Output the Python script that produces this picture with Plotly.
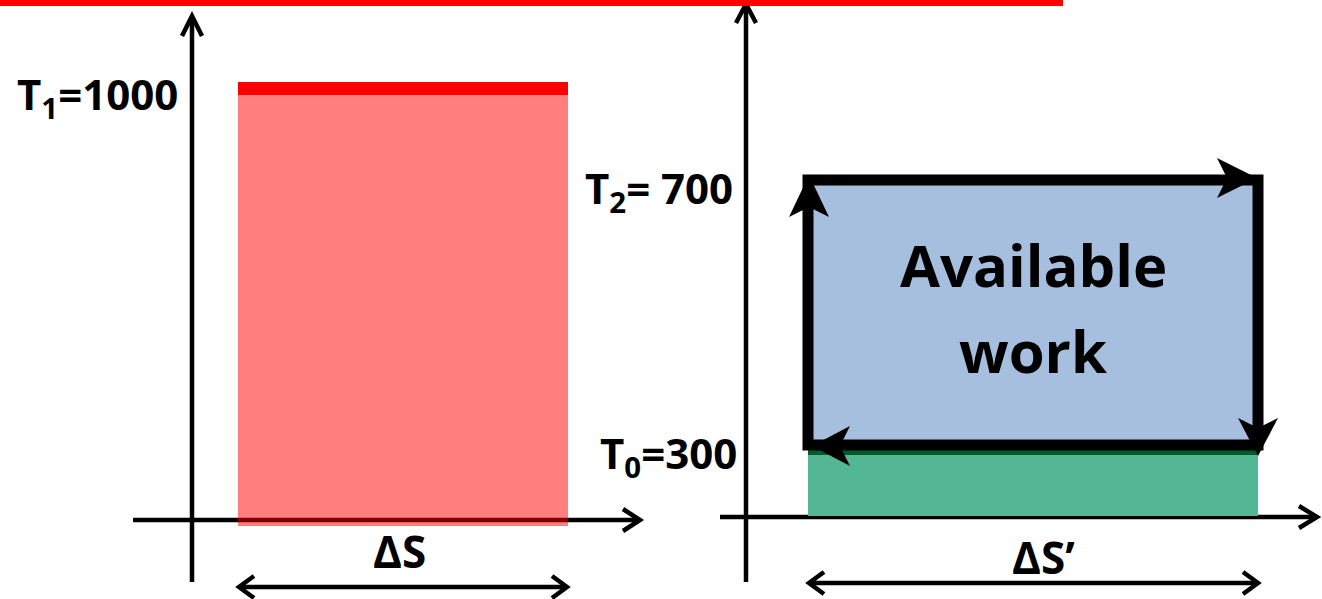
import plotly.graph_objects as go

# ---------------- data ----------------
left_levels = [1000]            # T1
left_level_labels = ["T<sub>1</sub>=1000"]
right_levels = [700, 300]       # T2, T0
right_level_labels = ["T<sub>2</sub>= 700", "T<sub>0</sub>=300"]
left_entropy = [0.0, 1.0]       # ΔS interval
right_entropy = [0.0, 1.0]      # ΔS' interval
width_labels = ["ΔS", "ΔS’"]
area_label = ["Available", "work"]

T1 = left_levels[0]
T2, T0 = right_levels

# ---------------- layout geometry (pixels) ----------------
W, H = 1322, 599
BLACK = "#000000"


def lin_range(va, pa, vb, pb, size):
    k = (pb - pa) / (vb - va)
    v0 = va + (0 - pa) / k
    v1 = va + (size - pa) / k
    return sorted([v0, v1]), (lambda p: va + (p - pa) / k)


# left panel: S=0 -> 238px, S=1 -> 568px ; T=0 -> 520px, T=1000 -> 88.5px
lx_range, lx = lin_range(left_entropy[0], 238, left_entropy[1], 568, W)
ly_range, ly = lin_range(0, 520, T1, 88.5, H)
# right panel: S'=0 -> 808px, S'=1 -> 1258px ; T2 -> 180px, T0 -> 445px
rx_range, rx = lin_range(right_entropy[0], 808, right_entropy[1], 1258, W)
ry_range, ry = lin_range(T2, 180, T0, 445, H)


def px(p):
    return p / W


def py(p):
    return 1 - p / H


fig = go.Figure()
# invisible traces establish the two coordinate systems
fig.add_trace(go.Scatter(x=left_entropy, y=[0, T1], mode="markers", marker=dict(size=0, opacity=0),
                         hoverinfo="skip", showlegend=False, xaxis="x", yaxis="y"))
fig.add_trace(go.Scatter(x=right_entropy, y=[T0, T2], mode="markers", marker=dict(size=0, opacity=0),
                         hoverinfo="skip", showlegend=False, xaxis="x2", yaxis="y2"))

shapes = []


def pline(x0, y0, x1, y1, w=4.5, color=BLACK):
    shapes.append(dict(type="line", xref="paper", yref="paper", x0=px(x0), y0=py(y0), x1=px(x1), y1=py(y1),
                       line=dict(color=color, width=w)))


def ppath(ax, ay, path, fill=None, w=4.5, xref="paper", yref="paper"):
    d = dict(type="path", xref=xref, yref=yref, xsizemode="pixel", ysizemode="pixel",
             xanchor=ax, yanchor=ay, path=path, line=dict(color=BLACK, width=w if fill is None else 0))
    if fill:
        d["fillcolor"] = fill
    shapes.append(d)


def chevron(x, y, direction, L=17, Wd=11, w=4.5):
    # open arrow head, tip at (x,y) in pixels; path coords are pixels with y up
    if direction == "up":
        p = f"M {-Wd},{-L} L 0,0 L {Wd},{-L}"
    elif direction == "right":
        p = f"M {-L},{Wd} L 0,0 L {-L},{-Wd}"
    else:  # left
        p = f"M {L},{Wd} L 0,0 L {L},{-Wd}"
    ppath(px(x), py(y), p, w=w)


# ---- left axes ----
pline(192, 582, 192, 17)
chevron(192, 16, "up", L=20, Wd=10)
pline(133, 520, 637, 520)
chevron(640, 520, "right", L=17, Wd=11)

# ---- left area (T1 * ΔS) ----
shapes.append(dict(type="rect", xref="x", yref="y", x0=left_entropy[0], x1=left_entropy[1],
                   y0=ly(526), y1=T1, fillcolor="rgba(255,0,0,0.5)", line=dict(width=0)))
shapes.append(dict(type="line", xref="x", yref="y", x0=left_entropy[0], x1=left_entropy[1],
                   y0=T1, y1=T1, line=dict(color="#FF0000", width=13)))

# left ΔS double arrow
pline(240, 587, 566, 587)
chevron(239, 587, "left", L=15, Wd=11)
chevron(567, 587, "right", L=15, Wd=11)

# ---- right axes ----
pline(746, 582, 746, 6)
chevron(746, 4, "up", L=19, Wd=10)
pline(720, 517, 1314, 517)
chevron(1317, 517, "right", L=18, Wd=11)

# ---- right areas ----
shapes.append(dict(type="rect", xref="x2", yref="y2", x0=right_entropy[0], x1=right_entropy[1],
                   y0=ry(516), y1=T0, fillcolor="#53B796", line=dict(width=0)))
shapes.append(dict(type="rect", xref="x2", yref="y2", x0=right_entropy[0], x1=right_entropy[1],
                   y0=T0, y1=T2, fillcolor="#A7BFDE", line=dict(width=0)))
shapes.append(dict(type="line", xref="x2", yref="y2", x0=right_entropy[0], x1=right_entropy[1],
                   y0=ry(452), y1=ry(452), line=dict(color="#005A2B", width=6)))
# cycle outline
shapes.append(dict(type="rect", xref="x2", yref="y2", x0=right_entropy[0], x1=right_entropy[1],
                   y0=T0, y1=T2, line=dict(color=BLACK, width=11)))
# filled arrow heads of the cycle
s0, s1 = right_entropy
ppath(s0, T2, "M 1,5 L -19,-37 L 1,-27 L 21,-37 Z", fill=BLACK, xref="x2", yref="y2")       # up
ppath(s1, T2, "M -1,2 L -41,22 L -31,2 L -41,-18 Z", fill=BLACK, xref="x2", yref="y2")      # right
ppath(s1, T0, "M 0,-11 L -20,27 L 0,17 L 20,27 Z", fill=BLACK, xref="x2", yref="y2")        # down
ppath(s0, T0, "M 4,-1 L 42,19 L 32,-1 L 42,-21 Z", fill=BLACK, xref="x2", yref="y2")        # left

# right ΔS' double arrow
pline(811, 583, 1256, 583)
chevron(809, 583, "left", L=15, Wd=11)
chevron(1258, 583, "right", L=15, Wd=11)

# top red line (last, on top)
shapes.append(dict(type="rect", xref="paper", yref="paper", x0=0, x1=px(1063), y0=py(6), y1=1,
                   fillcolor="#FF0000", line=dict(width=0)))

LF = dict(family="Open Sans", size=42, color=BLACK, weight="bold")
annotations = [
    dict(x=lx(180), y=T1, xref="x", yref="y", text=left_level_labels[0], showarrow=False,
         xanchor="right", yanchor="middle", yshift=-8, font=LF),
    dict(x=rx(735), y=T2, xref="x2", yref="y2", text=right_level_labels[0], showarrow=False,
         xanchor="right", yanchor="middle", yshift=-10, font=LF),
    dict(x=rx(739), y=T0, xref="x2", yref="y2", text=right_level_labels[1], showarrow=False,
         xanchor="right", yanchor="middle", yshift=-10, font=LF),
    dict(x=sum(left_entropy) / 2, y=py(551), xref="x", yref="paper", text=width_labels[0], showarrow=False,
         xanchor="center", yanchor="middle", xshift=-4, font=dict(LF, size=44)),
    dict(x=sum(right_entropy) / 2, y=py(557), xref="x2", yref="paper", text=width_labels[1], showarrow=False,
         xanchor="center", yanchor="middle", xshift=10, font=dict(LF, size=44)),
    dict(x=sum(right_entropy) / 2, y=py(264), xref="x2", yref="paper", text=area_label[0], showarrow=False,
         xanchor="center", yanchor="middle", font=dict(LF, size=58)),
    dict(x=sum(right_entropy) / 2, y=py(350), xref="x2", yref="paper", text=area_label[1], showarrow=False,
         xanchor="center", yanchor="middle", font=dict(LF, size=58)),
]

hidden = dict(visible=False, showgrid=False, zeroline=False, fixedrange=True)
fig.update_layout(
    width=W, height=H, margin=dict(l=0, r=0, t=0, b=0),
    paper_bgcolor="white", plot_bgcolor="white", showlegend=False,
    xaxis=dict(hidden, domain=[0, 1], range=lx_range),
    yaxis=dict(hidden, domain=[0, 1], range=ly_range),
    xaxis2=dict(hidden, domain=[0, 1], range=rx_range, overlaying="x"),
    yaxis2=dict(hidden, domain=[0, 1], range=ry_range, overlaying="y"),
    shapes=shapes, annotations=annotations,
)
fig.write_html("out.html", config={"displayModeBar": False},
               post_script="document.body.style.margin='0';document.body.style.overflow='hidden';")
